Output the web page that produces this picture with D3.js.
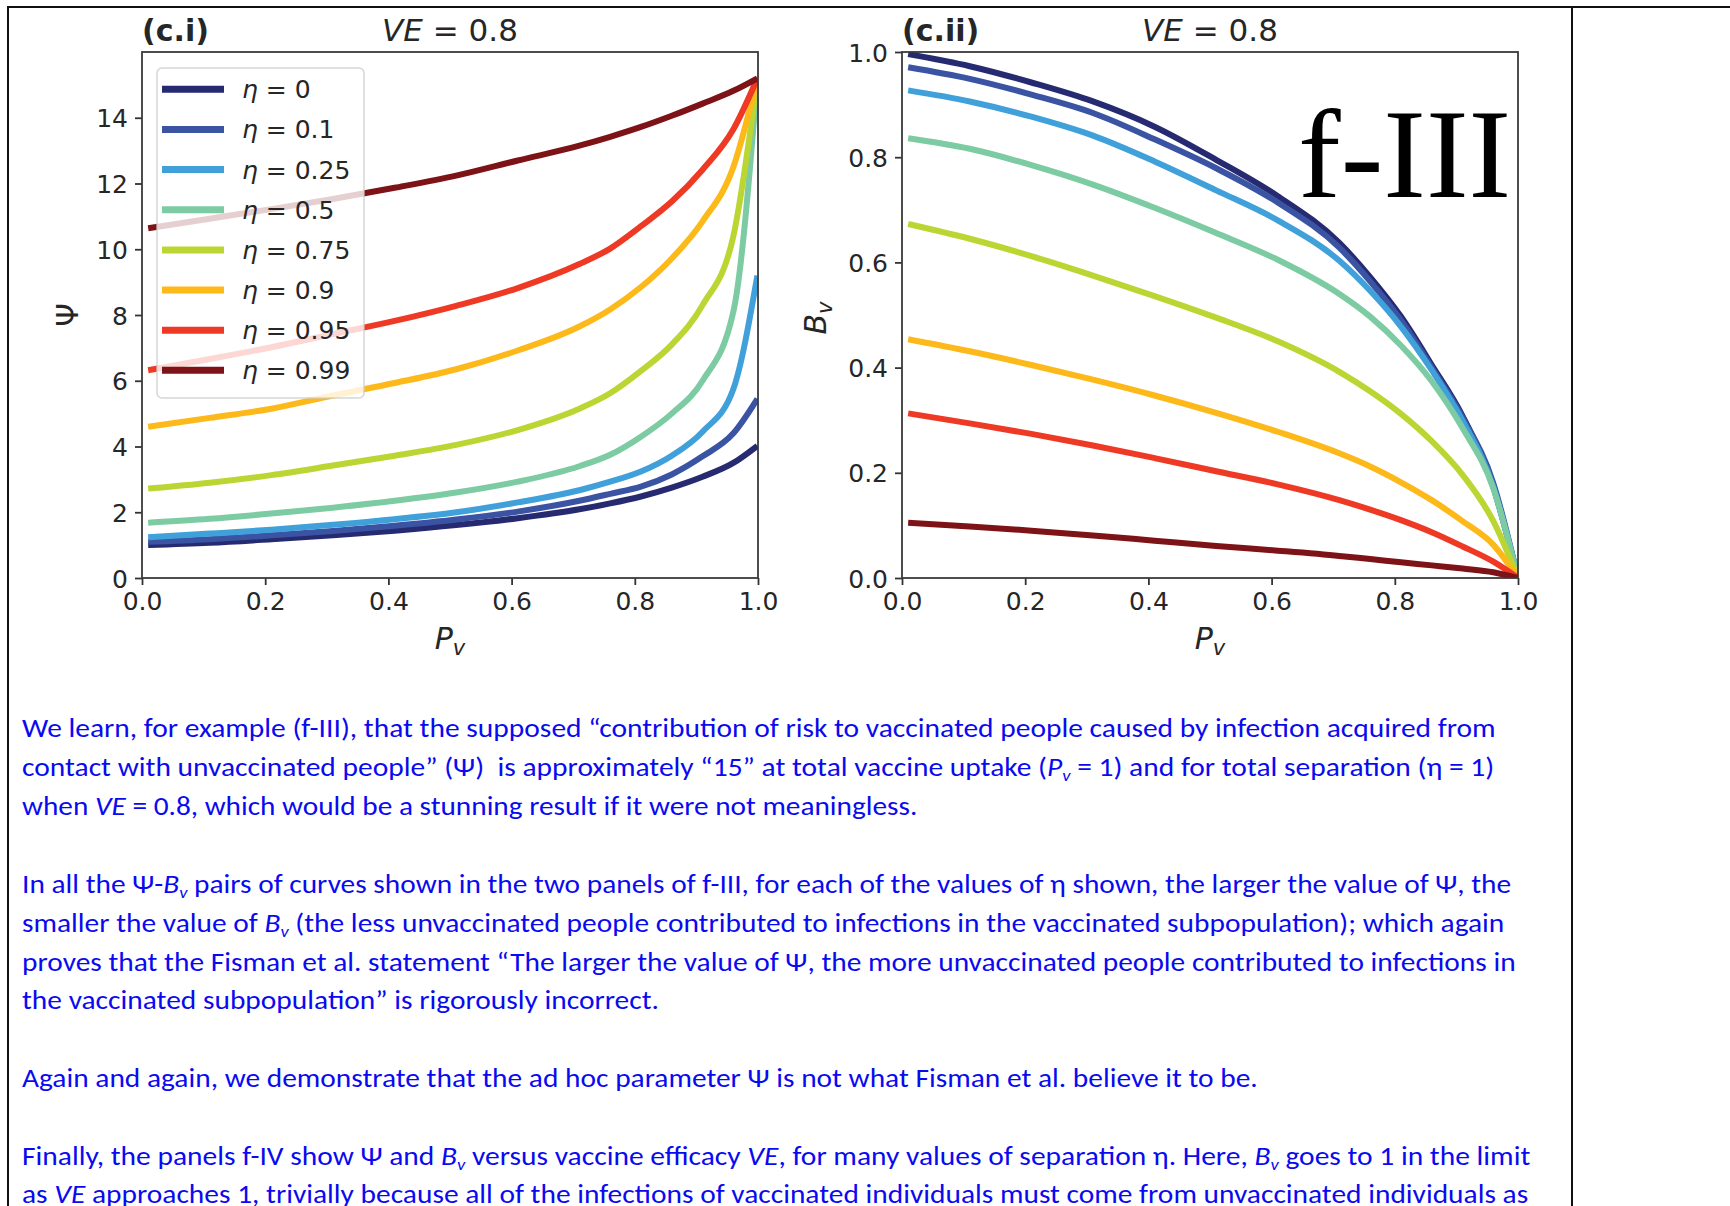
<!DOCTYPE html>
<html>
<head>
<meta charset="utf-8">
<script src="https://cdn.jsdelivr.net/npm/d3@7"></script>
<style>
  html, body { margin: 0; padding: 0; background: #fff; }
  svg { display: block; }
</style>
</head>
<body>
<svg id="page" width="1730" height="1206"></svg>
<script>
// sampled vaccine uptake values (P_v)
const pvGrid = [0.01, 0.11, 0.21, 0.31, 0.41, 0.51, 0.61, 0.71, 0.76, 0.81, 0.86, 0.91, 0.96, 0.999];

const etaLabels = ["0", "0.1", "0.25", "0.5", "0.75", "0.9", "0.95", "0.99"];
const etaColors = ["#262a70", "#3a53a3", "#40a0da", "#7ccba3", "#bbd632", "#fdb91a", "#ee3a24", "#7d1316"];

// panel (c.i): Psi vs P_v, one array per eta
const psiEta0    = [1.0, 1.07, 1.18, 1.30, 1.44, 1.61, 1.82, 2.09, 2.27, 2.48, 2.75, 3.08, 3.50, 4.02];
const psiEta010  = [1.10, 1.18, 1.30, 1.43, 1.59, 1.78, 2.02, 2.35, 2.56, 2.78, 3.15, 3.70, 4.40, 5.45];
const psiEta025  = [1.24, 1.35, 1.47, 1.62, 1.79, 2.0, 2.30, 2.67, 2.93, 3.24, 3.72, 4.45, 5.75, 9.2];
const psiEta050  = [1.68, 1.80, 1.96, 2.14, 2.35, 2.60, 2.93, 3.40, 3.75, 4.30, 5.0, 6.0, 8.1, 15.2];
const psiEta075  = [2.72, 2.90, 3.13, 3.42, 3.72, 4.05, 4.50, 5.15, 5.62, 6.30, 7.10, 8.30, 10.4, 15.2];
const psiEta090  = [4.60, 4.87, 5.15, 5.55, 5.93, 6.35, 6.92, 7.65, 8.17, 8.85, 9.72, 10.85, 12.5, 15.2];
const psiEta095  = [6.32, 6.66, 7.02, 7.42, 7.82, 8.28, 8.82, 9.55, 10.02, 10.7, 11.45, 12.42, 13.65, 15.2];
const psiEta099  = [10.64, 10.93, 11.22, 11.53, 11.87, 12.24, 12.70, 13.15, 13.42, 13.72, 14.06, 14.43, 14.82, 15.2];

// panel (c.ii): B_v vs P_v
const bvEta0    = [0.996, 0.973, 0.942, 0.906, 0.858, 0.795, 0.726, 0.637, 0.572, 0.497, 0.405, 0.308, 0.173, 0.004];
const bvEta010  = [0.971, 0.949, 0.919, 0.884, 0.834, 0.779, 0.714, 0.628, 0.564, 0.490, 0.400, 0.305, 0.180, 0.004];
const bvEta025  = [0.927, 0.906, 0.877, 0.841, 0.792, 0.737, 0.680, 0.603, 0.546, 0.478, 0.395, 0.299, 0.173, 0.004];
const bvEta050  = [0.836, 0.816, 0.785, 0.748, 0.704, 0.656, 0.605, 0.540, 0.497, 0.442, 0.374, 0.285, 0.170, 0.004];
const bvEta075  = [0.673, 0.645, 0.612, 0.575, 0.536, 0.495, 0.450, 0.392, 0.355, 0.312, 0.260, 0.196, 0.108, 0.003];
const bvEta090  = [0.454, 0.431, 0.405, 0.377, 0.347, 0.314, 0.278, 0.237, 0.212, 0.182, 0.148, 0.108, 0.063, 0.002];
const bvEta095  = [0.313, 0.294, 0.274, 0.252, 0.228, 0.203, 0.178, 0.148, 0.130, 0.110, 0.087, 0.060, 0.031, 0.001];
const bvEta099  = [0.105, 0.098, 0.090, 0.081, 0.071, 0.061, 0.052, 0.042, 0.036, 0.030, 0.024, 0.018, 0.011, 0.0];

const psiSeries = [psiEta0, psiEta010, psiEta025, psiEta050, psiEta075, psiEta090, psiEta095, psiEta099];
const bvSeries  = [bvEta0, bvEta010, bvEta025, bvEta050, bvEta075, bvEta090, bvEta095, bvEta099];

const pvTicks  = [0, 0.2, 0.4, 0.6, 0.8, 1.0];
const psiTicks = [0, 2, 4, 6, 8, 10, 12, 14];
const bvTicks  = [0, 0.2, 0.4, 0.6, 0.8, 1.0];

// text below the figure: [text, style] with style "" normal, "i" italic, "s" italic subscript
const textLines = [
  [["We learn, for example (f-III), that the supposed \u201ccontribution of risk to vaccinated people caused by infection acquired from", ""]],
  [["contact with unvaccinated people\u201d (\u03a8)  is approximately \u201c15\u201d at total vaccine uptake (", ""], ["P", "i"], ["v", "s"], [" = 1) and for total separation (\u03b7 = 1)", ""]],
  [["when ", ""], ["VE", "i"], [" = 0.8, which would be a stunning result if it were not meaningless.", ""]],
  [["In all the \u03a8-", ""], ["B", "i"], ["v", "s"], [" pairs of curves shown in the two panels of f-III, for each of the values of \u03b7 shown, the larger the value of \u03a8, the", ""]],
  [["smaller the value of ", ""], ["B", "i"], ["v", "s"], [" (the less unvaccinated people contributed to infections in the vaccinated subpopulation); which again", ""]],
  [["proves that the Fisman et al. statement \u201cThe larger the value of \u03a8, the more unvaccinated people contributed to infections in", ""]],
  [["the vaccinated subpopulation\u201d is rigorously incorrect.", ""]],
  [["Again and again, we demonstrate that the ad hoc parameter \u03a8 is not what Fisman et al. believe it to be.", ""]],
  [["Finally, the panels f-IV show \u03a8 and ", ""], ["B", "i"], ["v", "s"], [" versus vaccine efficacy ", ""], ["VE", "i"], [", for many values of separation \u03b7. Here, ", ""], ["B", "i"], ["v", "s"], [" goes to 1 in the limit", ""]],
  [["as ", ""], ["VE", "i"], [" approaches 1, trivially because all of the infections of vaccinated individuals must come from unvaccinated individuals as", ""]]
];
const textBaselines = [737, 776, 815, 893, 932, 971, 1009, 1087, 1165, 1203];
const textRightEdges = [1496, 1495, 918, 1512, 1505, 1516, 659, 1258, 1531, 1529];

const svg = d3.select("#page");
const tickFont = "'DejaVu Sans', sans-serif";
const inkColor = "#262626";

// page frame (table cell borders)
svg.append("line").attr("x1", 7).attr("x2", 1730).attr("y1", 7).attr("y2", 7)
    .attr("stroke", "#111").attr("stroke-width", 2);
svg.append("line").attr("x1", 8).attr("x2", 8).attr("y1", 6).attr("y2", 1206)
    .attr("stroke", "#111").attr("stroke-width", 2);
svg.append("line").attr("x1", 1572).attr("x2", 1572).attr("y1", 6).attr("y2", 1206)
    .attr("stroke", "#111").attr("stroke-width", 2);

function drawPanel(cfg) {
    const x = d3.scaleLinear().domain([0, 1]).range([cfg.left, cfg.right]);
    const y = d3.scaleLinear().domain(cfg.yDomain).range([cfg.bottom, cfg.top]);

    const clipId = "clip-" + cfg.id;
    svg.append("clipPath").attr("id", clipId)
        .append("rect")
        .attr("x", cfg.left).attr("y", cfg.top)
        .attr("width", cfg.right - cfg.left).attr("height", cfg.bottom - cfg.top);

    const line = d3.line()
        .x((d, i) => x(pvGrid[i]))
        .y(d => y(d))
        .curve(d3.curveMonotoneX);

    const g = svg.append("g").attr("clip-path", `url(#${clipId})`);
    cfg.series.forEach((vals, k) => {
        g.append("path")
            .datum(vals)
            .attr("fill", "none")
            .attr("stroke", etaColors[k])
            .attr("stroke-width", 6)
            .attr("stroke-linejoin", "round")
            .attr("d", line);
    });

    // axes
    const xAxis = svg.append("g")
        .attr("transform", `translate(0,${cfg.bottom})`)
        .call(d3.axisBottom(x).tickValues(pvTicks).tickFormat(d3.format(".1f")).tickSize(7).tickPadding(7));
    const yAxis = svg.append("g")
        .attr("transform", `translate(${cfg.left},0)`)
        .call(d3.axisLeft(y).tickValues(cfg.yTicks).tickFormat(cfg.yFormat).tickSize(7).tickPadding(7));

    [xAxis, yAxis].forEach(ax => {
        ax.select(".domain").remove();
        ax.selectAll("line").attr("stroke", "#333").attr("stroke-width", 1.8);
        ax.selectAll("text")
            .attr("fill", inkColor)
            .style("font-family", tickFont)
            .style("font-size", "25px");
    });
    yAxis.selectAll("text").attr("dy", "0.36em");

    // spines
    svg.append("rect")
        .attr("x", cfg.left).attr("y", cfg.top)
        .attr("width", cfg.right - cfg.left).attr("height", cfg.bottom - cfg.top)
        .attr("fill", "none").attr("stroke", "#3a3a3a").attr("stroke-width", 1.8);

    // titles
    svg.append("text")
        .attr("x", cfg.left).attr("y", 41)
        .attr("fill", inkColor)
        .style("font-family", tickFont).style("font-size", "30px").style("font-weight", "bold")
        .text(cfg.tag);
    const ve = svg.append("text")
        .attr("x", (cfg.left + cfg.right) / 2).attr("y", 41)
        .attr("text-anchor", "middle")
        .attr("fill", inkColor)
        .style("font-family", tickFont).style("font-size", "31px")
        .style("white-space", "pre");
    ve.append("tspan").style("font-style", "italic").text("VE");
    ve.append("tspan").text(" = 0.8");

    // x label P_v
    const xl = svg.append("text")
        .attr("x", (cfg.left + cfg.right) / 2).attr("y", 649)
        .attr("text-anchor", "middle")
        .attr("fill", inkColor)
        .style("font-family", tickFont).style("font-size", "30px").style("font-style", "italic");
    xl.append("tspan").text("P");
    xl.append("tspan").attr("dy", 6).style("font-size", "21px").text("v");

    // y label
    const yl = svg.append("text")
        .attr("transform", `translate(${cfg.yLabelX},${cfg.yLabelY}) rotate(-90)`)
        .attr("text-anchor", "middle")
        .attr("fill", inkColor)
        .style("font-family", tickFont).style("font-size", "30px");
    if (cfg.yLabelSub) {
        yl.append("tspan").style("font-style", "italic").text(cfg.yLabel);
        yl.append("tspan").attr("dy", 6).style("font-style", "italic").style("font-size", "21px").text(cfg.yLabelSub);
    } else {
        yl.text(cfg.yLabel);
    }
    return {x, y};
}

drawPanel({
    id: "psi", left: 142, right: 758, top: 52, bottom: 578,
    yDomain: [0, 16], yTicks: psiTicks, yFormat: d3.format("d"),
    series: psiSeries, tag: "(c.i)",
    yLabel: "\u03a8", yLabelSub: null, yLabelX: 78, yLabelY: 315
});

drawPanel({
    id: "bv", left: 902, right: 1518, top: 52, bottom: 578,
    yDomain: [0, 1], yTicks: bvTicks, yFormat: d3.format(".1f"),
    series: bvSeries, tag: "(c.ii)",
    yLabel: "B", yLabelSub: "v", yLabelX: 826, yLabelY: 318
});

// legend in panel (c.i)
const legend = svg.append("g");
legend.append("rect")
    .attr("x", 157).attr("y", 68).attr("width", 207).attr("height", 330)
    .attr("rx", 5)
    .attr("fill", "#fff").attr("fill-opacity", 0.8)
    .attr("stroke", "#cccccc").attr("stroke-opacity", 0.8).attr("stroke-width", 1.5);
etaLabels.forEach((lab, k) => {
    const cy = 89.3 + k * 40.15;
    legend.append("line")
        .attr("x1", 162).attr("x2", 224).attr("y1", cy).attr("y2", cy)
        .attr("stroke", etaColors[k]).attr("stroke-width", 7);
    const t = legend.append("text")
        .attr("x", 242).attr("y", cy + 9)
        .attr("fill", inkColor)
        .style("font-family", tickFont).style("font-size", "25px")
        .style("white-space", "pre");
    t.append("tspan").style("font-style", "italic").text("\u03b7");
    t.append("tspan").text(" = " + lab);
});

// big annotation
svg.append("text")
    .attr("x", 1298).attr("y", 197)
    .attr("fill", "#000")
    .style("font-family", "'Liberation Serif', 'Times New Roman', serif")
    .style("font-size", "128px")
    .text("f-III");

// paragraphs below the figure
const textLeft = 22;
textLines.forEach((parts, li) => {
    const g = svg.append("g").attr("transform", `translate(${textLeft},${textBaselines[li]})`);
    const t = g.append("text")
        .attr("x", 0).attr("y", 0)
        .attr("fill", "#0a0af0")
        .style("font-family", "Carlito, Calibri, Lato, 'Noto Sans', sans-serif")
        .style("font-size", "27px")
        .style("white-space", "pre");
    let shift = 0;
    parts.forEach(([str, kind]) => {
        const sp = t.append("tspan").text(str);
        if (kind === "i") sp.style("font-style", "italic");
        if (kind === "s") {
            sp.style("font-style", "italic").style("font-size", "17px").attr("dy", 5);
            shift = 5;
        } else if (shift) {
            sp.attr("dy", -shift);
            shift = 0;
        }
    });
    const w = t.node().getComputedTextLength();
    const k = (textRightEdges[li] - textLeft) / w;
    g.attr("transform", `translate(${textLeft},${textBaselines[li]}) scale(${k},1)`);
});
</script>
</body>
</html>
